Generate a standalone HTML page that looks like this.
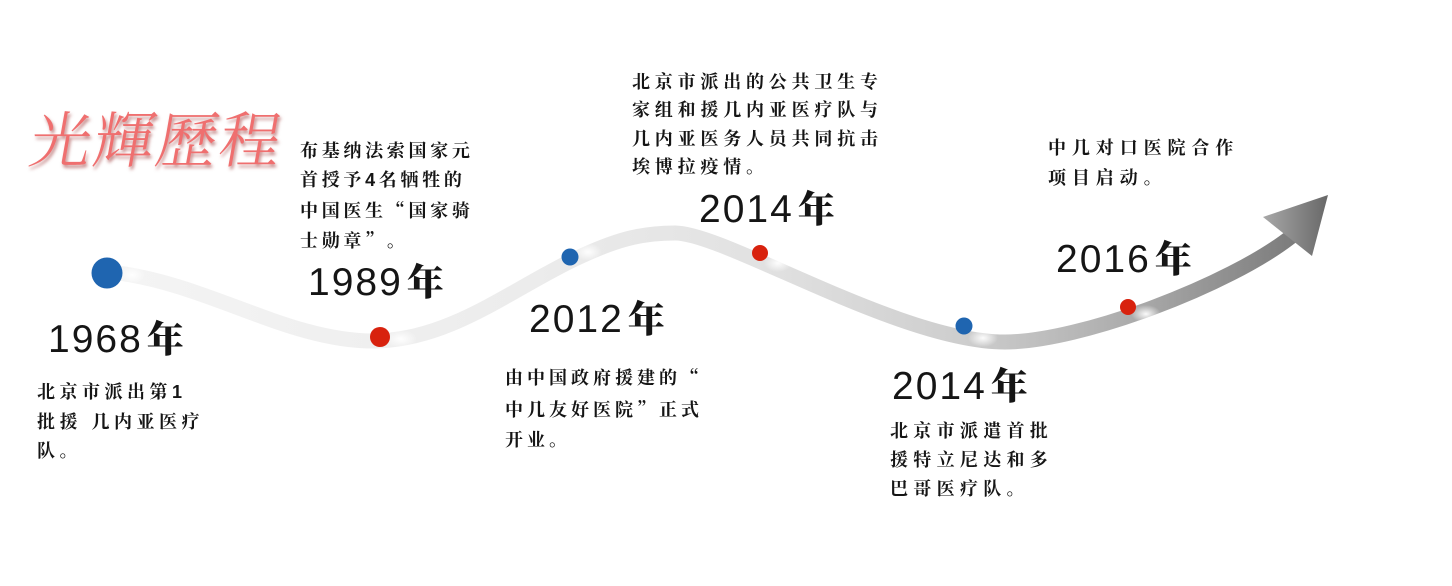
<!DOCTYPE html>
<html><head><meta charset="utf-8">
<style>
html,body{margin:0;padding:0;background:#fff;}
body{width:1452px;height:586px;position:relative;overflow:hidden;}
svg{position:absolute;left:0;top:0;}
.yr{position:absolute;font-family:"Liberation Sans",sans-serif;font-size:39px;line-height:39px;letter-spacing:2px;color:#151515;white-space:nowrap;}
.yr b{font-family:"Liberation Serif","Noto Serif CJK SC","Noto Sans CJK SC",serif;font-weight:900;font-size:37px;margin-left:4px;letter-spacing:0;}
.d{position:absolute;font-family:"Liberation Sans","Noto Serif CJK SC",serif;font-weight:700;font-size:18px;line-height:29.5px;color:#151515;white-space:nowrap;}
.d .q{font-family:"Noto Serif CJK SC",serif;}
.title{position:absolute;left:25px;top:112px;font-family:"Liberation Serif","Noto Serif CJK SC",serif;font-size:61px;line-height:62px;letter-spacing:2px;color:#ef6f6f;font-weight:300;white-space:nowrap;text-shadow:2px 3px 3px rgba(150,40,40,0.55);transform:skewX(-10deg);transform-origin:left bottom;}
</style></head>
<body>
<svg width="1452" height="586" viewBox="0 0 1452 586">
<defs>
<linearGradient id="g" gradientUnits="userSpaceOnUse" x1="118" y1="0" x2="1300" y2="0">
<stop offset="0" stop-color="#f4f4f4"/>
<stop offset="0.35" stop-color="#ececec"/>
<stop offset="0.55" stop-color="#e1e1e1"/>
<stop offset="0.72" stop-color="#cdcdcd"/>
<stop offset="0.86" stop-color="#ababab"/>
<stop offset="1" stop-color="#7a7a7a"/>
</linearGradient>
<linearGradient id="ah" gradientUnits="userSpaceOnUse" x1="1263" y1="0" x2="1328" y2="0">
<stop offset="0" stop-color="#a8a8a8"/>
<stop offset="1" stop-color="#686868"/>
</linearGradient>
<radialGradient id="w"><stop offset="0" stop-color="#fff" stop-opacity="0.95"/><stop offset="1" stop-color="#fff" stop-opacity="0"/></radialGradient>
</defs>
<path d="M118,273 C210,285 290,342 375,341 C450,340 510,290 575,259 C615,240 640,233 675,233 C725,233 900,342 1005,342 C1080,342 1230,285 1292,236" fill="none" stroke="url(#g)" stroke-width="15"/>
<polygon points="1263,217 1328,195 1312,256" fill="url(#ah)"/>
<ellipse cx="132" cy="275" rx="14" ry="9" fill="url(#w)"/>
<ellipse cx="401" cy="339" rx="16" ry="9" fill="url(#w)"/>
<ellipse cx="588" cy="252" rx="14" ry="9" fill="url(#w)"/>
<ellipse cx="778" cy="263" rx="14" ry="9" fill="url(#w)"/>
<ellipse cx="983" cy="338" rx="15" ry="9" fill="url(#w)"/>
<ellipse cx="1146" cy="314" rx="15" ry="9" fill="url(#w)"/>
<circle cx="107" cy="273" r="15.5" fill="#1f65b0"/>
<circle cx="380" cy="337" r="10" fill="#d8220e"/>
<circle cx="570" cy="257" r="8.5" fill="#1f65b0"/>
<circle cx="760" cy="253" r="8" fill="#d8220e"/>
<circle cx="964" cy="326" r="8.5" fill="#1f65b0"/>
<circle cx="1128" cy="307" r="8" fill="#d8220e"/>
</svg>

<div class="title">光輝歷程</div>

<div class="yr" style="left:48px;top:320px;">1968<b>年</b></div>
<div class="yr" style="left:308px;top:263px;">1989<b>年</b></div>
<div class="yr" style="left:529px;top:300px;">2012<b>年</b></div>
<div class="yr" style="left:699px;top:190px;">2014<b>年</b></div>
<div class="yr" style="left:892px;top:367px;">2014<b>年</b></div>
<div class="yr" style="left:1056px;top:240px;">2016<b>年</b></div>

<div class="d" style="left:37px;top:378px;letter-spacing:4.5px;">北京市派出第1<br>批援 几内亚医疗<br>队。</div>
<div class="d" style="left:300px;top:137px;letter-spacing:3.7px;line-height:29.3px;">布基纳法索国家元<br>首授予4名牺牲的<br>中国医生<span class="q">“</span>国家骑<br>士勋章<span class="q">”</span>。</div>
<div class="d" style="left:505px;top:362px;letter-spacing:4px;line-height:30.5px;">由中国政府援建的<span class="q">“</span><br>中几友好医院<span class="q">”</span>正式<br>开业。</div>
<div class="d" style="left:632px;top:68px;letter-spacing:4.8px;line-height:28.3px;">北京市派出的公共卫生专<br>家组和援几内亚医疗队与<br>几内亚医务人员共同抗击<br>埃博拉疫情。</div>
<div class="d" style="left:890px;top:417px;letter-spacing:5.3px;line-height:29px;">北京市派遣首批<br>援特立尼达和多<br>巴哥医疗队。</div>
<div class="d" style="left:1048px;top:133px;letter-spacing:5.9px;line-height:30px;">中几对口医院合作<br>项目启动。</div>
</body></html>
